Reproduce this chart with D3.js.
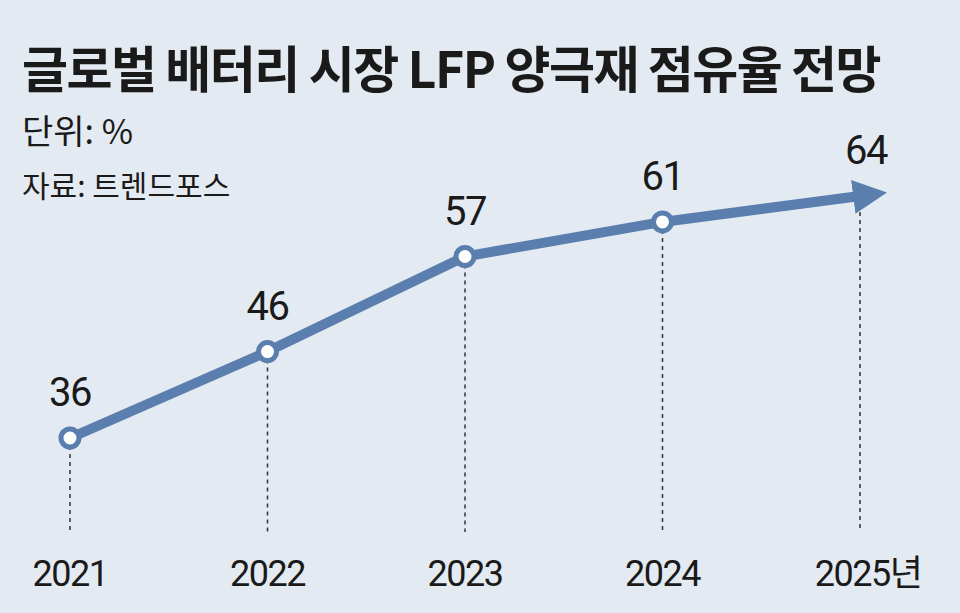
<!DOCTYPE html>
<html><head><meta charset="utf-8">
<script src="https://cdn.jsdelivr.net/npm/d3@7"></script>
<style>
body{margin:0;background:#e4eaf1;}
text{font-family:"Noto Sans CJK KR","Noto Sans",sans-serif;fill:#1a1a1a;}
.num{font-family:"Liberation Sans Narrow","Roboto","Noto Sans CJK KR",sans-serif;}
</style></head><body>
<script>
const years = ["2021", "2022", "2023", "2024", "2025"];
const yearLabels = ["2021", "2022", "2023", "2024", "2025년"];
const shares = [36, 46, 57, 61, 64];

const W = 960, H = 613;
const svg = d3.select("body").append("svg").attr("width", W).attr("height", H);
svg.append("rect").attr("width", W).attr("height", H).attr("fill", "#e4eaf1");

const x = d3.scalePoint().domain(years).range([70, 860]);
const y = d3.scaleLinear().domain([36, 64]).range([438, 196]);
const col = "#5a7eae";

// Titles
svg.append("text").attr("x", 22).attr("y", 88).attr("font-size", 50).attr("font-weight", 700)
  .attr("letter-spacing", -1.5).text("글로벌 배터리 시장 LFP 양극재 점유율 전망");
svg.append("text").attr("x", 22).attr("y", 144).attr("font-size", 34).text("단위: %");
svg.append("text").attr("x", 22).attr("y", 197).attr("font-size", 30).attr("fill", "#333").text("자료: 트렌드포스");

// Dashed guides
svg.selectAll("line.guide").data(years).join("line").attr("class", "guide")
  .attr("x1", d => x(d)).attr("x2", d => x(d))
  .attr("y1", (d, i) => y(shares[i])).attr("y2", 532)
  .attr("stroke", "#333").attr("stroke-width", 1.5).attr("stroke-dasharray", "4,4");

// Arrow marker
svg.append("defs").append("marker").attr("id", "arr").attr("viewBox", "0 0 10 10")
  .attr("refX", 2).attr("refY", 5).attr("markerWidth", 3.4).attr("markerHeight", 3.6)
  .attr("markerUnits", "strokeWidth").attr("orient", "auto")
  .append("path").attr("d", "M0,0 L10,5 L0,10 Z").attr("fill", col);

const line = d3.line().x((d, i) => x(years[i])).y(d => y(d));
svg.append("path").datum(shares).attr("d", line).attr("fill", "none")
  .attr("stroke", col).attr("stroke-width", 10).attr("marker-end", "url(#arr)");

// Points (not on 2025)
svg.selectAll("circle.pt").data(shares.slice(0, 4)).join("circle").attr("class", "pt")
  .attr("cx", (d, i) => x(years[i])).attr("cy", d => y(d)).attr("r", 9)
  .attr("fill", "#fff").attr("stroke", col).attr("stroke-width", 5);

// Value labels
svg.selectAll("text.val").data(shares).join("text").attr("class", "val num")
  .attr("x", (d, i) => x(years[i]) + (i === 4 ? 6 : 0)).attr("y", d => y(d) - 32)
  .attr("text-anchor", "middle").attr("font-size", 40).attr("letter-spacing", -1.5).text(d => d);

// Year labels
svg.selectAll("text.yr").data(yearLabels).join("text").attr("class", "yr num")
  .attr("x", (d, i) => x(years[i]) + (i === 4 ? 8 : 0)).attr("y", 586)
  .attr("text-anchor", "middle").attr("font-size", 36).attr("letter-spacing", -1.5).text(d => d);
</script></body></html>
